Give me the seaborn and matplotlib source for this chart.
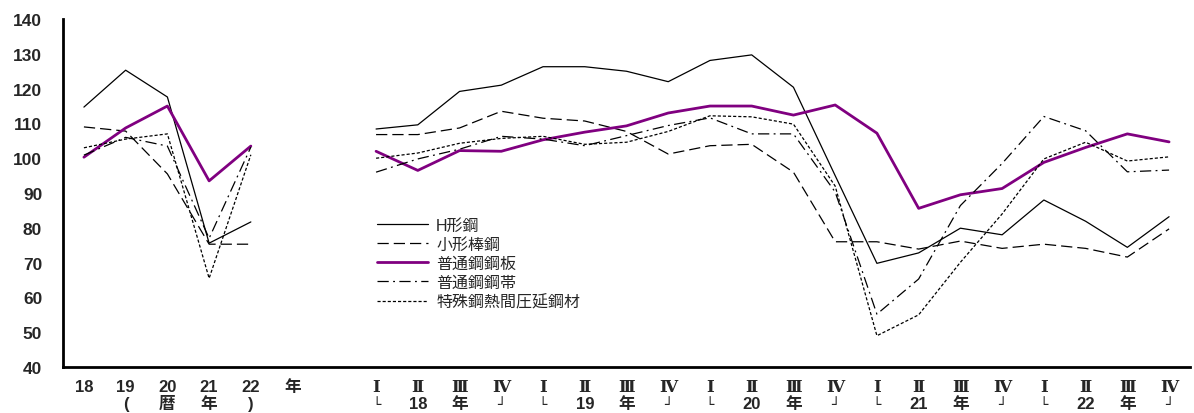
import numpy as np
import pandas as pd
import matplotlib
matplotlib.use("Agg")
import matplotlib.pyplot as plt
import matplotlib.transforms as mtransforms
import seaborn as sns

# 暦年（18〜22年）
years = ["18", "19", "20", "21", "22"]
# 四半期（18年Ⅰ〜22年Ⅳ）
quarters = ["Ⅰ", "Ⅱ", "Ⅲ", "Ⅳ"]
q_years = ["18", "19", "20", "21", "22"]

series_names = ["H形鋼", "小形棒鋼", "普通鋼鋼板", "普通鋼鋼帯", "特殊鋼熱間圧延鋼材"]

# 年次データ
h_year = [114.7, 125.3, 117.6, 75.6, 81.7]
small_year = [109.0, 107.8, 95.5, 75.3, 75.3]
plate_year = [100.3, 108.7, 115.0, 93.5, 103.5]
strip_year = [100.9, 106.0, 103.5, 77.0, 103.2]
special_year = [103.0, 105.5, 107.0, 65.5, 101.0]

# 四半期データ
h_q = [108.4, 109.6, 119.2, 121.0, 126.3, 126.3, 125.0, 122.0, 128.1, 129.7,
       120.4, 95.0, 69.8, 72.8, 79.9, 78.0, 88.0, 81.9, 74.4, 83.2]
small_q = [106.8, 106.8, 108.7, 113.5, 111.5, 110.7, 107.7, 101.2, 103.6, 104.0,
           96.0, 76.0, 76.0, 73.9, 76.2, 74.1, 75.3, 74.1, 71.6, 79.7]
plate_q = [102.0, 96.5, 102.2, 102.0, 105.3, 107.5, 109.3, 113.0, 115.0, 115.0,
           112.4, 115.3, 107.2, 85.6, 89.5, 91.3, 98.8, 103.1, 107.0, 104.7]
strip_q = [96.0, 99.8, 102.6, 106.3, 105.5, 103.6, 106.5, 109.4, 111.6, 107.0,
           107.0, 90.3, 55.2, 65.3, 86.4, 98.5, 112.0, 107.9, 96.1, 96.6]
special_q = [100.0, 101.5, 104.3, 105.7, 106.3, 104.0, 104.6, 107.7, 112.2, 111.9,
             109.8, 92.0, 49.0, 55.0, 70.1, 84.0, 99.8, 104.6, 99.2, 100.4]

year_data = [h_year, small_year, plate_year, strip_year, special_year]
q_data = [h_q, small_q, plate_q, strip_q, special_q]

# x軸の並び：年次5つ + 「年」 + 空き + 四半期20
x_slots = years + ["年", ""] + [q for _ in q_years for q in quarters]
q_start = len(years) + 2

rows = []
for name, yv, qv in zip(series_names, year_data, q_data):
    for i, v in enumerate(yv):
        rows.append({"series": name, "seg": "year", "pos": i, "value": v})
    for i, v in enumerate(qv):
        rows.append({"series": name, "seg": "quarter", "pos": q_start + i, "value": v})
df = pd.DataFrame(rows)

styles = {
    "H形鋼": dict(color="black", linewidth=0.9, linestyle="-"),
    "小形棒鋼": dict(color="black", linewidth=0.9, linestyle=(0, (9, 4))),
    "普通鋼鋼板": dict(color="#800080", linewidth=2.0, linestyle="-"),
    "普通鋼鋼帯": dict(color="black", linewidth=0.9, linestyle=(0, (9, 3.5, 1.5, 3.5))),
    "特殊鋼熱間圧延鋼材": dict(color="black", linewidth=0.9, linestyle=(0, (2.5, 1.6))),
}

sns.set_style("white")
plt.rcParams["font.family"] = ["Liberation Sans", "Noto Sans CJK JP", "DejaVu Sans"]

fig = plt.figure(figsize=(11.94, 4.14), dpi=100)
ax = fig.add_axes([0.0528, 0.111, 0.9438, 0.8406])

for name in series_names:
    sub = df[df["series"] == name]
    sns.lineplot(data=sub, x="pos", y="value", units="seg", estimator=None,
                 ax=ax, label=name, legend=False, sort=True, **styles[name])

ax.set_xlim(-0.5, len(x_slots) - 0.5)
ax.set_ylim(40, 140)
ax.set_yticks(np.arange(40, 141, 10))
ax.set_xticks(np.arange(0.5, len(x_slots) - 1, 1.0))
ax.set_xticklabels([])
ax.set_xlabel("")
ax.set_ylabel("")
ax.tick_params(axis="y", direction="in", length=6, width=1.2, labelsize=12.5, pad=15)
ax.tick_params(axis="x", direction="in", length=5, width=1.0)
for lab in ax.get_yticklabels():
    lab.set_fontweight("bold")

for side in ["top", "right"]:
    ax.spines[side].set_visible(False)
for side in ["left", "bottom"]:
    ax.spines[side].set_linewidth(2.0)
    ax.spines[side].set_color("black")

# x軸ラベル（2段）
trans = mtransforms.blended_transform_factory(ax.transData, ax.transAxes)
row1_y = -0.057
row2_y = -0.106
for i, lab in enumerate(x_slots):
    if lab == "":
        continue
    if lab in quarters:
        ax.text(i, row1_y, lab, transform=trans, ha="center", va="center",
                fontsize=12, fontweight="bold", family=["DejaVu Serif", "Noto Sans CJK JP"])
    else:
        ax.text(i, row1_y, lab, transform=trans, ha="center", va="center",
                fontsize=12, fontweight="bold")

second_year = {1: "(", 2: "暦", 3: "年", 4: ")"}
for i, lab in second_year.items():
    ax.text(i, row2_y, lab, transform=trans, ha="center", va="center",
            fontsize=12, fontweight="bold")
for k, yr in enumerate(q_years):
    base = q_start + 4 * k
    for j, lab in enumerate(["└", yr, "年", "┘"]):
        bracket = lab in ("└", "┘")
        fam = ["DejaVu Sans"] if bracket else ["Liberation Sans", "Noto Sans CJK JP"]
        ax.text(base + j, row2_y, lab, transform=trans, ha="center", va="center",
                fontsize=10 if bracket else 12,
                fontweight="normal" if bracket else "bold", family=fam)

# 凡例（系列ごとに1つ）
handles, labels = ax.get_legend_handles_labels()
seen = {}
for h, l in zip(handles, labels):
    if l not in seen:
        seen[l] = h
ax.legend(list(seen.values()), list(seen.keys()), loc="upper left",
          bbox_to_anchor=(0.273, 0.448), frameon=False,
          fontsize=11.5, handlelength=3.2, handletextpad=0.5, labelspacing=0.26,
          borderaxespad=0.0)

fig.savefig("out.png", dpi=100)
